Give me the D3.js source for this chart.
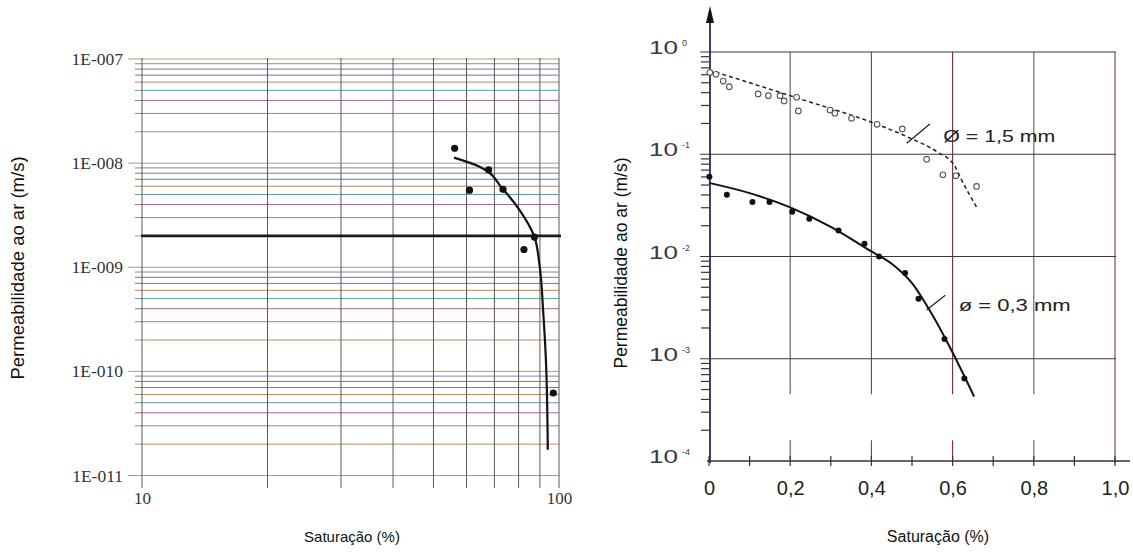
<!DOCTYPE html>
<html>
<head>
<meta charset="utf-8">
<script src="https://cdn.jsdelivr.net/npm/d3@7"></script>
<style>
  body { margin: 0; background: #fff; }
  svg { display: block; }
</style>
</head>
<body>
<div id="chart"></div>
<script>
// ---- left chart data (saturation %, permeability m/s) ----
const leftPointsX = [56.2, 61.0, 67.8, 73.4, 82.4, 87.3, 96.9];
const leftPointsY = [1.39e-8, 5.5e-9, 8.6e-9, 5.6e-9, 1.48e-9, 1.95e-9, 6.2e-11];
const leftCurveX = [56.0, 64.7, 73.4, 80.6, 87.3, 89.7, 91.7, 93.1, 94.0];
const leftCurveY = [1.13e-8, 9.2e-9, 5.6e-9, 3.5e-9, 1.96e-9, 1.09e-9, 3.6e-10, 1.19e-10, 1.77e-11];
const leftRefLine = 2e-9;
const leftYTicks = [1e-7, 1e-8, 1e-9, 1e-10, 1e-11];
const leftYLabels = ['1E-007', '1E-008', '1E-009', '1E-010', '1E-011'];
const leftXTicks = [10, 100];

// ---- right chart data ----
// d = 1,5 mm (open circles, dashed fit)
const open15X = [0.002, 0.017, 0.035, 0.050, 0.121, 0.146, 0.175, 0.185, 0.216, 0.220, 0.298, 0.310, 0.351, 0.414, 0.476, 0.536, 0.576, 0.608, 0.659];
const open15Y = [0.63, 0.605, 0.52, 0.458, 0.389, 0.374, 0.374, 0.332, 0.361, 0.265, 0.271, 0.252, 0.225, 0.196, 0.177, 0.0896, 0.063, 0.0615, 0.0484];
const fit15X = [0.0, 0.126, 0.224, 0.414, 0.495, 0.561, 0.606, 0.618, 0.66];
const fit15Y = [0.667, 0.464, 0.348, 0.196, 0.144, 0.106, 0.076, 0.0605, 0.030];
// d = 0,3 mm (filled dots, solid fit)
const dots03X = [0.001, 0.044, 0.107, 0.149, 0.205, 0.247, 0.319, 0.383, 0.419, 0.483, 0.516, 0.580, 0.629];
const dots03Y = [0.0601, 0.0402, 0.0341, 0.0341, 0.0274, 0.0234, 0.018, 0.0133, 0.010, 0.0069, 0.00387, 0.00156, 0.00064];
const fit03X = [0.0, 0.1, 0.2, 0.3, 0.4, 0.45, 0.5, 0.55, 0.6, 0.653];
const fit03Y = [0.0525, 0.0417, 0.0302, 0.0195, 0.0112, 0.00851, 0.0055, 0.00269, 0.00115, 0.000427];
const rightYTicks = [1, 1e-1, 1e-2, 1e-3, 1e-4];
const rightYExp = ['0', '-1', '-2', '-3', '-4'];
const rightXTicks = [0, 0.2, 0.4, 0.6, 0.8, 1.0];
const rightXLabels = ['0', '0,2', '0,4', '0,6', '0,8', '1,0'];
const labels = ['\u00d8 = 1,5 mm', '\u00f8 = 0,3 mm'];

const width = 1133, height = 552;
const svg = d3.select('#chart').append('svg')
    .attr('width', width)
    .attr('height', height);

// =================== LEFT CHART ===================
const xL = d3.scaleLog().domain([10, 100]).range([142, 559]);
const yL = d3.scaleLog().domain([1e-11, 1e-7]).range([475.5, 59]);
const gridColors = ['#a9a070', '#c08a6a', '#6a8fbf', '#9a6a9a', '#5e9e9a', '#b58a5a', '#5f7fb5', '#a06a70', '#7a8ab5'];

const left = svg.append('g');

// horizontal grid (coloured, log minor lines)
yL.ticks().forEach((t, i) => {
    const major = Math.abs(Math.log10(t) - Math.round(Math.log10(t))) < 1e-9;
    left.append('line')
        .attr('x1', major ? 128 : 135).attr('x2', xL(100))
        .attr('y1', yL(t)).attr('y2', yL(t))
        .attr('stroke', gridColors[i % gridColors.length])
        .attr('stroke-width', 1);
});

// vertical grid
xL.ticks().forEach(t => {
    left.append('line')
        .attr('x1', xL(t)).attr('x2', xL(t))
        .attr('y1', yL(1e-7) - 1).attr('y2', 488)
        .attr('stroke', '#5a5a5a')
        .attr('stroke-width', 1);
});

// thick reference line
left.append('line')
    .attr('x1', xL(10) - 1).attr('x2', xL(100) + 2)
    .attr('y1', yL(leftRefLine)).attr('y2', yL(leftRefLine))
    .attr('stroke', '#1e1a18')
    .attr('stroke-width', 2.6);

// y labels
const yAxisL = left.append('g')
    .attr('transform', 'translate(' + xL(10) + ',0)')
    .call(d3.axisLeft(yL).tickValues(leftYTicks)
        .tickFormat((d, i) => leftYLabels[i]).tickSize(0).tickPadding(19));
yAxisL.select('.domain').remove();
yAxisL.selectAll('text')
    .attr('font-family', '"Liberation Serif", "Times New Roman", serif')
    .attr('font-size', 17.5)
    .attr('fill', '#333');

// x labels
const xAxisL = left.append('g')
    .attr('transform', 'translate(0,488)')
    .call(d3.axisBottom(xL).tickValues(leftXTicks)
        .tickFormat(d3.format('d')).tickSize(0).tickPadding(4));
xAxisL.select('.domain').remove();
xAxisL.selectAll('text')
    .attr('font-family', '"Liberation Serif", "Times New Roman", serif')
    .attr('font-size', 17)
    .attr('fill', '#333');

// fitted curve
const leftCurve = leftCurveX.map((x, i) => [x, leftCurveY[i]]);
left.append('path')
    .datum(leftCurve)
    .attr('fill', 'none')
    .attr('stroke', '#111')
    .attr('stroke-width', 2.2)
    .attr('d', d3.line().x(d => xL(d[0])).y(d => yL(d[1])).curve(d3.curveMonotoneY));

// points
left.append('g').selectAll('circle')
    .data(leftPointsX.map((x, i) => [x, leftPointsY[i]]))
    .enter().append('circle')
    .attr('cx', d => xL(d[0]))
    .attr('cy', d => yL(d[1]))
    .attr('r', 3.6)
    .attr('fill', '#111');

// titles
left.append('text')
    .attr('transform', 'translate(24,' + 268 + ') rotate(-90)')
    .attr('text-anchor', 'middle')
    .attr('font-family', '"Liberation Sans", Arial, sans-serif')
    .attr('font-size', 18.5)
    .attr('fill', '#111')
    .text('Permeabilidade ao ar (m/s)');

left.append('text')
    .attr('x', 352).attr('y', 542)
    .attr('text-anchor', 'middle')
    .attr('font-family', '"Liberation Sans", Arial, sans-serif')
    .attr('font-size', 15)
    .attr('fill', '#111')
    .text('Saturação (%)');

// =================== RIGHT CHART ===================
const xR = d3.scaleLinear().domain([0, 1]).range([709, 1115]);
const yR = d3.scaleLog().domain([1e-4, 1]).range([461, 52]);
const vColors = ['#5a5a3a', '#3d5585', '#7a2a3a', '#4a6a45', '#7a3a6a'];

const right = svg.append('g');

// vertical grid lines (scan has a gap near the bottom)
rightXTicks.slice(1).forEach((t, i) => {
    const last = t === 1;
    if (last) {
        right.append('line')
            .attr('x1', xR(t)).attr('x2', xR(t))
            .attr('y1', yR(1)).attr('y2', yR(1e-4) + 2)
            .attr('stroke', vColors[i]).attr('stroke-width', 1.1);
    } else {
        right.append('line')
            .attr('x1', xR(t)).attr('x2', xR(t))
            .attr('y1', yR(1)).attr('y2', yR(4.5e-4))
            .attr('stroke', vColors[i]).attr('stroke-width', 1.1);
        right.append('line')
            .attr('x1', xR(t)).attr('x2', xR(t))
            .attr('y1', yR(1.6e-4)).attr('y2', yR(1e-4))
            .attr('stroke', vColors[i]).attr('stroke-width', 1.1);
    }
});

// horizontal grid at decades + minor ticks on y axis
yR.ticks().forEach(t => {
    const major = Math.abs(Math.log10(t) - Math.round(Math.log10(t))) < 1e-9;
    if (major && t > 1e-4) {
        right.append('line')
            .attr('x1', xR(0) - 9).attr('x2', xR(1) + 1)
            .attr('y1', yR(t)).attr('y2', yR(t))
            .attr('stroke', '#3a3a3a').attr('stroke-width', 1.2);
    } else if (!major) {
        right.append('line')
            .attr('x1', xR(0) - 8).attr('x2', xR(0))
            .attr('y1', yR(t)).attr('y2', yR(t))
            .attr('stroke', '#333').attr('stroke-width', 1.2);
    }
});

// x axis line + ticks
right.append('line')
    .attr('x1', xR(0) - 2).attr('x2', 1130)
    .attr('y1', yR(1e-4)).attr('y2', yR(1e-4))
    .attr('stroke', '#333').attr('stroke-width', 1.5);
xR.ticks(10).forEach(t => {
    right.append('line')
        .attr('x1', xR(t)).attr('x2', xR(t))
        .attr('y1', yR(1e-4) - 5).attr('y2', yR(1e-4) + 5)
        .attr('stroke', '#333').attr('stroke-width', 1.2);
});

// y axis with arrow
right.append('line')
    .attr('x1', xR(0) + 1).attr('x2', xR(0) + 1)
    .attr('y1', 14).attr('y2', yR(1e-4) + 2)
    .attr('stroke', '#22305a').attr('stroke-width', 1.8);
right.append('path')
    .attr('d', 'M' + (xR(0) + 1) + ',6 L' + (xR(0) - 3) + ',23 L' + (xR(0) + 5) + ',23 Z')
    .attr('fill', '#111');

// y tick labels 10^n
const yLab = right.append('g')
    .attr('font-family', '"Liberation Sans", Arial, sans-serif')
    .attr('fill', '#3a3a3a');
rightYTicks.forEach((t, i) => {
    yLab.append('text')
        .attr('x', 649).attr('y', yR(t) + 2)
        .attr('font-size', 18)
        .attr('textLength', 29)
        .attr('lengthAdjust', 'spacingAndGlyphs')
        .text('10');
    yLab.append('text')
        .attr('x', 682).attr('y', yR(t) - 6)
        .attr('font-size', 9)
        .text(rightYExp[i]);
});

// x tick labels
const xAxisR = right.append('g')
    .attr('transform', 'translate(0,' + yR(1e-4) + ')')
    .call(d3.axisBottom(xR).tickValues(rightXTicks)
        .tickFormat((d, i) => rightXLabels[i]).tickSize(0).tickPadding(20));
xAxisR.select('.domain').remove();
xAxisR.selectAll('text')
    .attr('font-family', '"Liberation Sans", Arial, sans-serif')
    .attr('font-size', 20)
    .attr('fill', '#222');

// dashed fit (1,5 mm)
right.append('path')
    .datum(fit15X.map((x, i) => [x, fit15Y[i]]))
    .attr('fill', 'none')
    .attr('stroke', '#222')
    .attr('stroke-width', 1.5)
    .attr('stroke-dasharray', '4,3')
    .attr('d', d3.line().x(d => xR(d[0])).y(d => yR(d[1])).curve(d3.curveMonotoneX));

// open circles
right.append('g').selectAll('circle')
    .data(open15X.map((x, i) => [x, open15Y[i]]))
    .enter().append('circle')
    .attr('cx', d => xR(d[0]))
    .attr('cy', d => yR(d[1]))
    .attr('r', 2.8)
    .attr('fill', '#fff')
    .attr('stroke', '#555')
    .attr('stroke-width', 1.1);

// solid fit (0,3 mm)
right.append('path')
    .datum(fit03X.map((x, i) => [x, fit03Y[i]]))
    .attr('fill', 'none')
    .attr('stroke', '#111')
    .attr('stroke-width', 2)
    .attr('d', d3.line().x(d => xR(d[0])).y(d => yR(d[1])).curve(d3.curveMonotoneX));

// filled dots
right.append('g').selectAll('circle')
    .data(dots03X.map((x, i) => [x, dots03Y[i]]))
    .enter().append('circle')
    .attr('cx', d => xR(d[0]))
    .attr('cy', d => yR(d[1]))
    .attr('r', 3)
    .attr('fill', '#111');

// annotations
right.append('line')
    .attr('x1', xR(0.487)).attr('y1', yR(0.128))
    .attr('x2', xR(0.544)).attr('y2', yR(0.198))
    .attr('stroke', '#222').attr('stroke-width', 1.3);
right.append('line')
    .attr('x1', xR(0.536)).attr('y1', yR(0.00300))
    .attr('x2', xR(0.582)).attr('y2', yR(0.00418))
    .attr('stroke', '#222').attr('stroke-width', 1.3);

right.append('text')
    .attr('x', xR(0.577)).attr('y', yR(0.133))
    .attr('font-family', '"Liberation Sans", Arial, sans-serif')
    .attr('font-size', 17)
    .attr('textLength', 112)
    .attr('lengthAdjust', 'spacingAndGlyphs')
    .attr('fill', '#222')
    .text(labels[0]);
right.append('text')
    .attr('x', xR(0.615)).attr('y', yR(0.00296))
    .attr('font-family', '"Liberation Sans", Arial, sans-serif')
    .attr('font-size', 17)
    .attr('textLength', 112)
    .attr('lengthAdjust', 'spacingAndGlyphs')
    .attr('fill', '#222')
    .text(labels[1]);

// titles
right.append('text')
    .attr('transform', 'translate(627,' + 263 + ') rotate(-90)')
    .attr('text-anchor', 'middle')
    .attr('font-family', '"Liberation Sans", Arial, sans-serif')
    .attr('font-size', 17.5)
    .attr('fill', '#111')
    .text('Permeabilidade ao ar (m/s)');

right.append('text')
    .attr('x', 938).attr('y', 542)
    .attr('text-anchor', 'middle')
    .attr('font-family', '"Liberation Sans", Arial, sans-serif')
    .attr('font-size', 16)
    .attr('fill', '#111')
    .text('Saturação (%)');
</script>
</body>
</html>
